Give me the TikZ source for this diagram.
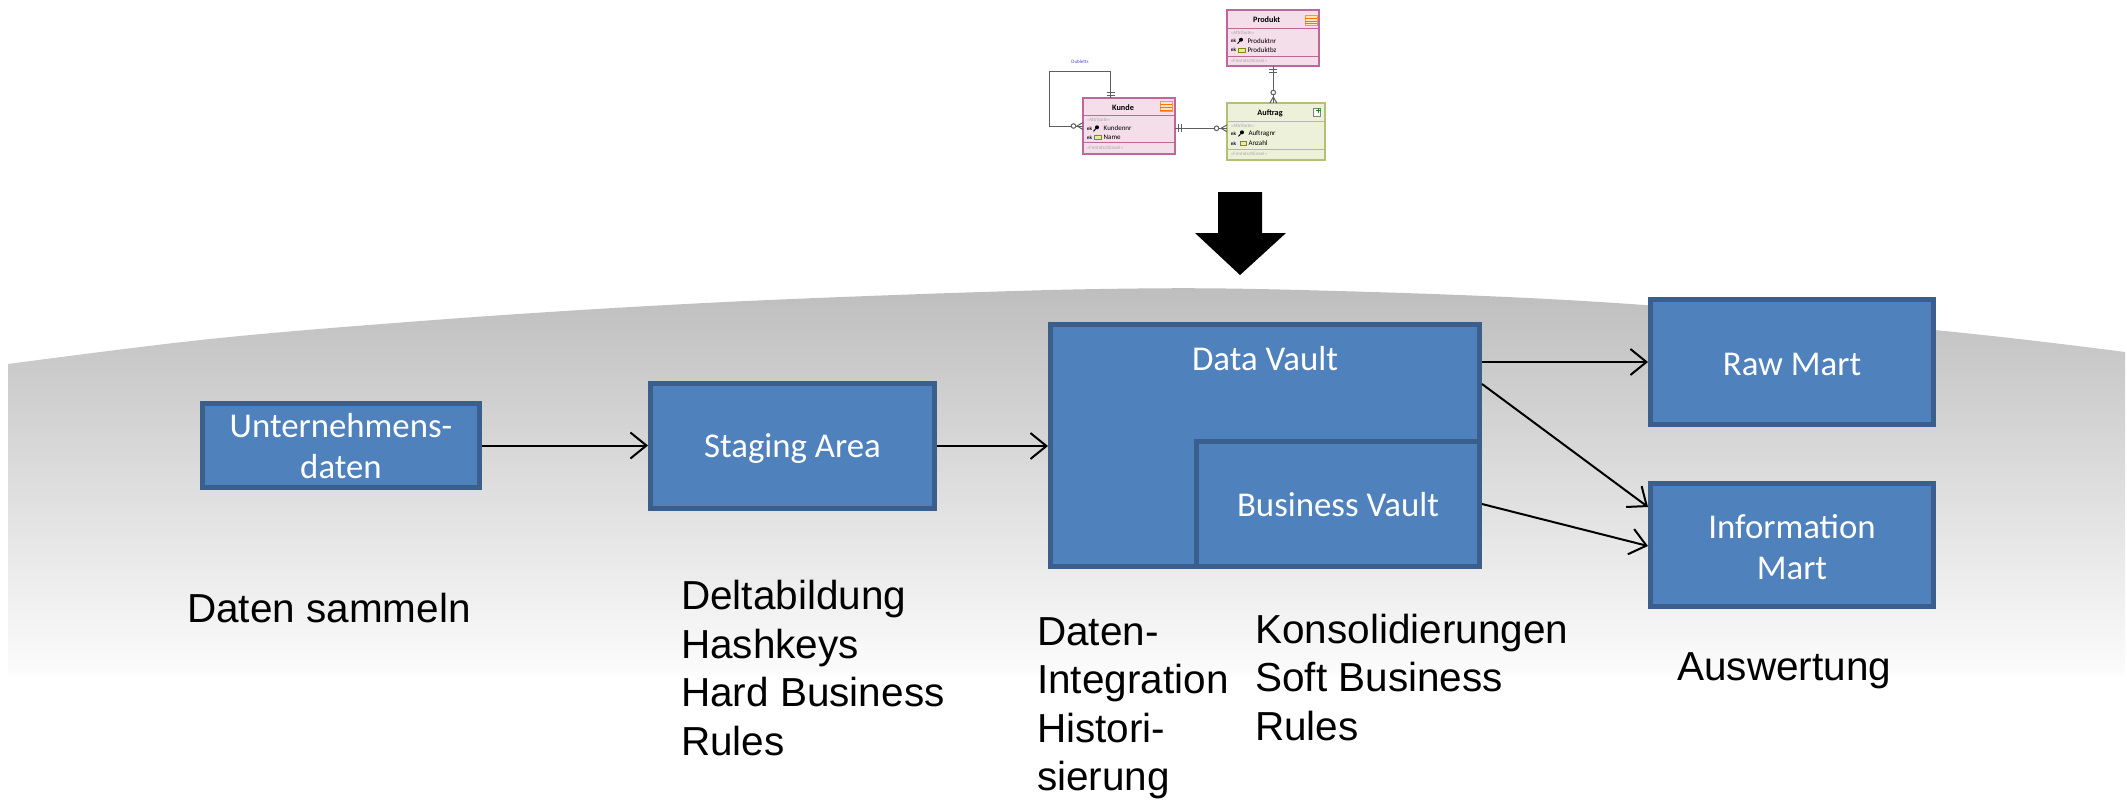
\documentclass[tikz,border=0pt]{standalone}
\usepackage{fontspec}
\setmainfont{Liberation Sans}
\newfontfamily\carl{Carlito}
\usetikzlibrary{arrows.meta,calc}
\definecolor{boxfill}{HTML}{4F81BD}
\definecolor{boxline}{HTML}{3A5F8D}
\definecolor{bgtop}{HTML}{BEBEBE}
\definecolor{bgbot}{HTML}{FCFCFC}
\definecolor{pinkfill}{HTML}{F3DEEA}
\definecolor{pinkline}{HTML}{C0679A}
\definecolor{greenfill}{HTML}{EEF1DA}
\definecolor{greenline}{HTML}{B4BF78}
\definecolor{ergray}{HTML}{5E5E5E}
\definecolor{stereo}{HTML}{A8A8A8}
\definecolor{dublblue}{HTML}{4A4AD0}
\begin{document}
\begin{tikzpicture}[x=1pt,y=-1pt,
  box/.style={draw=boxline, fill=boxfill, line width=5pt, inner sep=0pt},
  boxtext/.style={text=white, font=\carl\fontsize{34.8}{41}\selectfont, align=center},
  lbl/.style={font=\fontsize{40.5}{48.5}\selectfont, inner sep=0pt, anchor=base west},
  arr/.style={line width=2pt, -{Straight Barb[length=16pt,width=26pt,line width=2pt]}},
  entpink/.style={draw=pinkline, fill=pinkfill, line width=1.3pt, inner sep=0pt, outer sep=0pt},
  entgreen/.style={draw=greenline, fill=greenfill, line width=1.3pt, inner sep=0pt, outer sep=0pt},
  enthead/.style={font=\carl\bfseries\fontsize{8.2}{9}\selectfont, inner sep=0pt},
  entrow/.style={font=\carl\fontsize{7}{7}\selectfont, inner sep=0pt, anchor=west},
  entster/.style={font=\carl\fontsize{5}{6}\selectfont, text=stereo, inner sep=0pt, anchor=west},
  nk/.style={font=\carl\bfseries\fontsize{5}{5}\selectfont, inner sep=0pt, anchor=west},
  erl/.style={draw=ergray, line width=1pt},
  sepl/.style={line width=0.8pt},
]
\useasboundingbox (0,0) rectangle (2127,801);
\fill[white] (0,0) rectangle (2127,801);

% gray background band
\shade[top color=bgtop, bottom color=bgbot]
  plot[smooth, tension=0.6] coordinates {(8,364) (210,339) (421,321) (631,307) (842,297) (1100,289) (1300,290) (1600,302) (1934,330) (2125,352)}
  -- (2125,675) -- (8,675) -- cycle;

% ---------- ER diagram ----------
\node[entpink, minimum width=92pt, minimum height=56pt] (produkt) at (1273,38) {};
\node[entpink, minimum width=92pt, minimum height=56pt] (kunde) at (1129,126) {};
\node[entgreen, minimum width=98pt, minimum height=57pt] (auftrag) at (1276,131.5) {};

% separators
\draw[pinkline, sepl] (1227,28.3) -- (1319,28.3) (1227,56) -- (1319,56);
\draw[pinkline, sepl] (1083,115.7) -- (1175,115.7) (1083,142.7) -- (1175,142.7);
\draw[greenline, sepl] (1227,121.7) -- (1325,121.7) (1227,149.3) -- (1325,149.3);

% headers
\node[enthead] (produktH) at (1266.7,19.3) {Produkt};
\node[enthead] (kundeH) at (1123,107.5) {Kunde};
\node[enthead] (auftragH) at (1270,113.3) {Auftrag};

% table icons
\foreach \ix/\iy in {1305/15, 1160/101.7}{
  \draw[orange!80, fill=orange!20, line width=0.5pt] (\ix,\iy) rectangle ++(12,10);
  \draw[orange!90!red, line width=1pt] (\ix,\iy+3) -- ++(12,0) (\ix,\iy+6) -- ++(12,0) (\ix,\iy+8.6) -- ++(12,0);
}
% document icon
\draw[gray, fill=white, line width=0.5pt] (1313.5,108) rectangle (1320,116);
\fill[green!60!black] (1316,110.3) rectangle (1321,111.3);
\fill[green!60!black] (1318,108.3) rectangle (1319,113.3);

% rows Produkt
\node[entster] (pA) at (1230.7,32.7) {«Attribute»};
\node[nk] (pnk1) at (1230.7,40.7) {nk};
\node[nk] (pnk2) at (1230.7,50) {nk};
\node[entrow] (pR1) at (1247.3,40.7) {Produktnr};
\node[entrow] (pR2) at (1247.3,50) {Produktbz};
\node[entster] (pF) at (1230.7,60.3) {«Fremdschlüssel»};
% rows Kunde
\node[entster] (kA) at (1086.7,120) {«Attribute»};
\node[nk] (knk1) at (1086.7,128.3) {nk};
\node[nk] (knk2) at (1086.7,137.3) {nk};
\node[entrow] (kR1) at (1103.5,128.3) {Kundennr};
\node[entrow] (kR2) at (1103.5,137.3) {Name};
\node[entster] (kF) at (1086.7,147.5) {«Fremdschlüssel»};
% rows Auftrag
\node[entster] (aA) at (1230.7,126) {«Attribute»};
\node[nk] (ank1) at (1230.7,133.3) {nk};
\node[nk] (ank2) at (1230.7,143.3) {nk};
\node[entrow] (aR1) at (1248.3,133.3) {Auftragnr};
\node[entrow] (aR2) at (1248.3,143.3) {Anzahl};
\node[entster] (aF) at (1230.7,153.7) {«Fremdschlüssel»};

% key and ab icons
\foreach \kx/\ky in {1241/40.7, 1097/128.3, 1242/133.3}{
  \fill[black] (\kx,\ky-1) circle (2);
  \draw[black, line width=0.9pt] (\kx,\ky-1) -- (\kx-3.5,\ky+3);
}
\foreach \ax/\ay in {1238.5/50, 1094.5/137.3, 1240/143.3}{
  \draw[olive, fill=yellow!50!green!30, line width=0.4pt] (\ax,\ay-2.2) rectangle ++(6.5,4.4);
}

% connectors
\draw[erl] ([xshift=-18.3pt]kunde.north) |- (1049.3,71.7) |- (kunde.west);
\draw[erl] ([yshift=-2.3pt]kunde.east) -- ([yshift=-2.3pt]kunde.east -| auftrag.west);
\draw[erl] (produkt.south) -- (produkt.south |- auftrag.north);
\node[font=\carl\fontsize{5}{6}\selectfont, text=dublblue, inner sep=0pt] (dubl) at (1080,61.7) {Dubletts};

% cardinality marks
\draw[erl] (1106.5,92.3) -- (1115,92.3) (1106.5,95.3) -- (1115,95.3);
\draw[erl, fill=white] (1073.5,126) circle (2.3);
\draw[erl] (1077,126) -- (1083,122.5) (1077,126) -- (1083,129.5);
\draw[erl] (1178,124.3) -- (1178,132.3) (1181,124.3) -- (1181,132.3);
\draw[erl, fill=white] (1216.5,128.3) circle (2.3);
\draw[erl] (1221,128.3) -- (1227,124.8) (1221,128.3) -- (1227,131.8);
\draw[erl] (1269.3,69) -- (1277.3,69) (1269.3,72) -- (1277.3,72);
\draw[erl, fill=white] (1273.3,92.5) circle (2.3);
\draw[erl] (1273.3,97) -- (1269.8,103) (1273.3,97) -- (1276.8,103);

% ---------- big black arrow ----------
\fill[black] (1218,192) -- (1262,192) -- (1262,233) -- (1286,233) -- (1240,275) -- (1195,233) -- (1218,233) -- cycle;

% ---------- process boxes ----------
\node[box, minimum width=277pt, minimum height=84pt] (U) at (341,445.5) {};
\node[boxtext] (Ut) at (341,446.5) {Unternehmens-\\daten};
\node[box, minimum width=284pt, minimum height=125pt] (S) at (792.5,446) {};
\node[boxtext] (St) at (792.5,449) {Staging Area};
\node[box, minimum width=429pt, minimum height=242pt] (DV) at (1265,445.5) {};
\node[boxtext] (DVt) at (1265,359) {Data Vault};
\node[box, minimum width=283pt, minimum height=125pt] (BV) at (1338,504) {};
\node[boxtext] (BVt) at (1338,505) {Business Vault};
\node[box, minimum width=283pt, minimum height=125pt] (RM) at (1792,362) {};
\node[boxtext] (RMt) at (1792,364.5) {Raw Mart};
\node[box, minimum width=283pt, minimum height=123pt] (IM) at (1792,545) {};
\node[boxtext] (IMt) at (1792,547) {Information\\Mart};

% arrows
\draw[arr] (U.east) -- (U.east -| S.west);
\draw[arr] (S.east) -- (S.east -| DV.west);
\draw[arr] (RM.west -| DV.east) -- (RM.west);
\draw[arr] ([yshift=-62pt]DV.north east) -- ([yshift=-26pt]IM.north west);
\draw[arr] (BV.east) -- ([yshift=-1pt]IM.west);

% ---------- labels ----------
\node[lbl] (l1) at (187,622) {Daten sammeln};
\node[lbl] (l2) at (681,609.5) {\begin{tabular}[t]{@{}l@{}}Deltabildung\\Hashkeys\\Hard Business\\Rules\end{tabular}};
\node[lbl] (l3) at (1037,645) {\begin{tabular}[t]{@{}l@{}}Daten-\\Integration\\Histori-\\sierung\end{tabular}};
\node[lbl] (l4) at (1255,643.3) {\begin{tabular}[t]{@{}l@{}}Konsolidierungen\\Soft Business\\Rules\end{tabular}};
\node[lbl] (l5) at (1677,680) {Auswertung};
\end{tikzpicture}
\end{document}
